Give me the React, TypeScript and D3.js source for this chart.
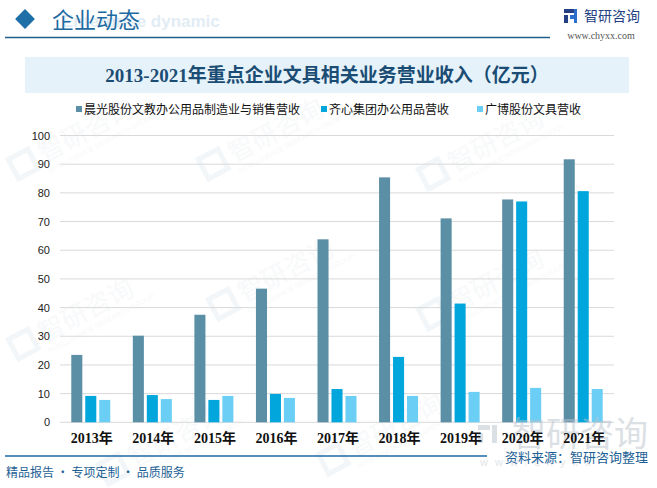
import * as d3 from "d3";
import React from "react";

const years = ["2013年", "2014年", "2015年", "2016年", "2017年", "2018年", "2019年", "2020年", "2021年"];
const seriesNames = ["晨光股份文教办公用品制造业与销售营收", "齐心集团办公用品营收", "广博股份文具营收"];
const chenguang = [23.5, 30.2, 37.5, 46.6, 63.8, 85.4, 71.1, 77.7, 91.7];
const qixin = [9.2, 9.5, 7.8, 9.9, 11.6, 22.8, 41.4, 77.0, 80.6];
const guangbo = [7.8, 8.1, 9.2, 8.5, 9.2, 9.2, 10.6, 12.0, 11.6];
const yTicks = [0, 10, 20, 30, 40, 50, 60, 70, 80, 90, 100];
const colors = ["#5b8fa6", "#00a6dc", "#6bcff5"];

const W = 657;
const H = 488;
const cjk = "'Noto Sans CJK SC', 'Noto Sans', sans-serif";

// faint diagonal watermarks behind the chart
const marks = [
  [60, 150], [250, 150], [470, 160], [60, 330], [260, 290], [470, 300], [150, 455], [370, 445],
];

const App: React.FC = () => {
  const series = [chenguang, qixin, guangbo];
  const x0 = d3.scaleBand<string>().domain(years).range([60, 614]).padding(0);
  const x1 = d3.scaleBand<number>().domain([0, 1, 2]).range([0, 39]).paddingInner(0.21);
  const groupOffset = (x0.bandwidth() - 39) / 2;
  const y = d3.scaleLinear().domain([0, 100]).range([422.3, 135.5]);

  return (
    <div style={{ position: "fixed", left: 0, top: 0, width: W, height: H, background: "#fff" }}>
      <svg width={W} height={H} style={{ display: "block" }}>
        <rect width={W} height={H} fill="#fff" />

        {/* watermarks */}
        {marks.map(([mx, my], i) => (
          <g key={i} transform={`translate(${mx},${my}) rotate(-28)`} opacity={0.45}>
            <rect x={-50} y={-16} width={22} height={22} fill="none" stroke="#e4ecf2" strokeWidth={5} />
            <text x={-20} y={4} fontFamily={cjk} fontSize={26} fill="#eef2f5">
              智研咨询
            </text>
            <text x={-20} y={16} fontFamily="'Liberation Sans', sans-serif" fontSize={7} fill="#eef2f5">
              INTELLIGENCE RESEARCH GROUP
            </text>
          </g>
        ))}

        {/* header */}
        <text x={62} y={27} fontFamily="'Liberation Sans', Arial, sans-serif" fontWeight="bold" fontSize={17} fill="#e2ecf4">
          Enterprise dynamic
        </text>
        <rect x={18} y={12} width={14} height={14} fill="#1e6fa8" transform="rotate(45 25 19)" />
        <text x={52} y={28} fontFamily={cjk} fontSize={22} fill="#1d6aa2">
          企业动态
        </text>
        <line x1={5} x2={550} y1={37.5} y2={37.5} stroke="#1d5f8a" strokeWidth={1.5} />
        <g>
          <rect x={564} y={9} width={10} height={4} fill="#243f84" />
          <rect x={564} y={15} width={4} height={8} fill="#243f84" />
          <rect x={570} y={15} width={4} height={4} fill="#2a6fd0" />
          <rect x={574} y={9} width={3} height={14} fill="#2a6fd0" />
        </g>
        <text x={584} y={21} fontFamily={cjk} fontSize={14} fill="#243f84">
          智研咨询
        </text>
        <text x={601} y={39} textAnchor="middle" fontFamily="'Liberation Serif', serif" fontSize={10} fill="#555">
          www.chyxx.com
        </text>

        {/* title box */}
        <rect x={25} y={57} width={604} height={36} fill="#e5f2fa" />
        <text
          x={327}
          y={82}
          textAnchor="middle"
          fontFamily="'Liberation Serif', 'Noto Sans CJK SC', serif"
          fontWeight="bold"
          fontSize={19}
          fill="#1b4d74"
        >
          2013-2021年重点企业文具相关业务营业收入（亿元）
        </text>

        {/* legend */}
        {[76, 321, 477].map((lx, i) => (
          <g key={i}>
            <rect x={lx} y={106} width={6} height={6} fill={colors[i]} />
            <text x={lx + 8} y={114} fontFamily={cjk} fontSize={12} fill="#111">
              {seriesNames[i]}
            </text>
          </g>
        ))}

        {/* grid + y axis */}
        {yTicks.map((t) => (
          <g key={t}>
            <line x1={60} x2={614} y1={y(t)} y2={y(t)} stroke="#d9d9d9" strokeWidth={1} />
            <text
              x={50}
              y={y(t) + 4}
              textAnchor="end"
              fontFamily="'Liberation Sans', Arial, sans-serif"
              fontSize={11}
              fill="#222"
            >
              {t}
            </text>
          </g>
        ))}

        {/* bars */}
        {years.map((yr, i) => (
          <g key={yr} transform={`translate(${(x0(yr) ?? 0) + groupOffset},0)`}>
            {series.map((s, k) => (
              <rect
                key={k}
                x={x1(k)}
                y={y(s[i])}
                width={x1.bandwidth()}
                height={y(0) - y(s[i])}
                fill={colors[k]}
              />
            ))}
          </g>
        ))}

        {/* bottom-right logo watermark */}
        <g opacity={0.5}>
          <rect x={478} y={425} width={12} height={5} fill="#b9c2cc" />
          <rect x={478} y={433} width={5} height={10} fill="#b9c2cc" />
          <rect x={492} y={425} width={5} height={18} fill="#b9c2cc" />
          <text x={512} y={446} fontFamily={cjk} fontSize={34} fill="#b9c2cc">
            智研咨询
          </text>
          <text x={480} y={466} fontFamily="'Liberation Sans', sans-serif" fontSize={11} letterSpacing={7} fill="#c8cfd6">
            www.chyxx
          </text>
        </g>

        {/* x labels */}
        {years.map((yr) => (
          <text
            key={yr}
            x={(x0(yr) ?? 0) + x0.bandwidth() / 2 + 1}
            y={443}
            textAnchor="middle"
            fontFamily="'Liberation Serif', 'Noto Sans CJK SC', serif"
            fontWeight="bold"
            fontSize={14}
            fill="#111"
          >
            {yr}
          </text>
        ))}

        {/* footer */}
        <line x1={5} x2={487} y1={456} y2={456} stroke="#1d6aa2" strokeWidth={1.5} />
        <text x={648} y={462} textAnchor="end" fontFamily={cjk} fontSize={13} fill="#1d5f95">
          资料来源：智研咨询整理
        </text>
        <text x={6} y={477} fontFamily={cjk} fontSize={12} fill="#1d5f95">
          精品报告 · 专项定制 · 品质服务
        </text>
      </svg>
    </div>
  );
};

export default App;
